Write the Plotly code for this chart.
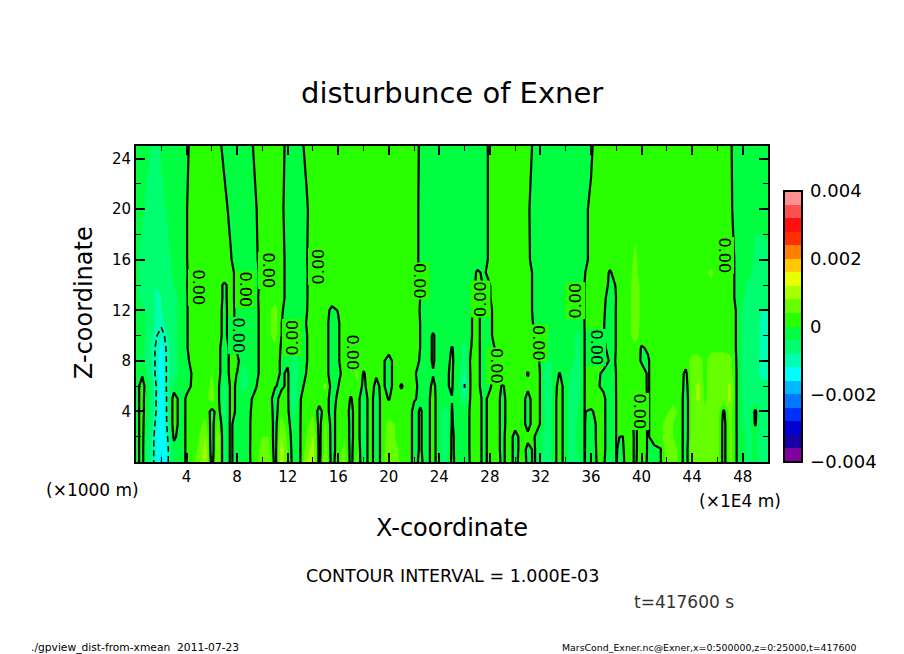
import numpy as np
import plotly.graph_objects as go

# x in units of 1E4 m, every 0.5; z in units of 1000 m
x_coord = [i * 0.5 for i in range(101)]
z_coord = [0, 1, 2, 3, 4, 5, 6, 7, 8, 9, 10, 11, 12, 13, 14, 15, 16, 20, 25]

# disturbance of Exner, in units of 1E-4, one list per height
z00 = [-1,1,-6,-11,-17,-11,-2,-2,0.5,3, 6,10,-2,8,-5,1,-3,-2,-0.3,3, 6,8,-2,10,5,-3,-0.1,8,10,-1.5, 8,-2,3,6,-1.5,5,-5,3,-3,2,
       8,6,3,3,-1.5,1,-2,2,-3,-6, 1,-2,-4,1,2,-1,1,3,-1.5,3, -2,3,-1,0.5,-3,-9,-3,3,-3,-6, -6,0.1,-3,0.5,1,-6,0.1,-1,3,-1, 4,-1,-1,-0.3,6,6,3,-3,8,6, 5,6,6,-2,6,0.1,-3,-5,-3,-6,-6]
z01 = [-1,1,-6,-11,-16,-11,-2,-2,0.5,2, 5,10,-3,8,-5,1,-3,-2,-0.2,3, 5,5,-2,10,4,-3,-0.1,6,10,-1.5, 6,-2,2,5,-1.5,4,-5,3,-3,2,
       8,6,2,3,-1.5,0.5,-2,2,-3,-6, 0.8,-2,-3,1,2,-1,1,2,-1.5,3, -2,2,-1,0.5,-3,-6,-3,3,-3,-6, -3,0.1,-2,0.5,1,-3,0.1,-0.6,3,-1, 3,-0.5,-1,-0.2,6,6,3,-3,8,6, 5,6,6,-2,6,0.1,-3,-5,-3,-6,-6]
z02 = [-1,1,-5,-11,-16,-10,1,-2,0.5,2, 4,8,-3,8,-5,1,-3,-2,-0.2,2, 4,4,-2,8,3,-3,-0.1,4,8,-1.5, 6,-2,2,4,-1.5,3,-5,3,-3,2,
       6,4,2,3,-1.5,0.5,-2,2,-3,-6, 0.8,-2,-3,1,2,-1,1,2,-1.5,3, -2,2,1,0.2,-3,-6,-3,3,-3,-6, -3,0.1,-1.5,0.5,1,-3,0.1,-0.1,3,-1, 3,-0.5,2,3,6,4,3,-3,6,6, 5,6,6,-2,6,0.1,-3,-5,-3,-6,-6]
z03 = [-1,1,-4,-10,-16,-9,3,-2,0.5,2, 3,5,-2,5,-5,1,-3,-2,-0.2,2, 4,4,-2,6,2,-4,-0.1,3,6,-1.5, 5,-2,2,4,-1.5,3,-5,3,-3,2,
       5,4,2,3,-1.5,0.5,-2,2,-3,-6, 0.3,-2,-3,1,2,-1,1,2,-1.5,2, 2,2,-1.5,2,-0.2,-6,-3,3,-3,-6, -3,0.1,-1.5,0.5,1,-3,0.1,3,2,-1, 3,-0.5,2,3,6,4,3,-3,6,6, 5,6,6,-2,6,0.1,-4,-5,0.5,-6,-6]
z04 = [-1,1,-3,-9,-15,-9,3,-2,0.5,2, 2,3,-1.5,2,-6,1,-0.5,-3,-0.2,1, 3,3,-2,3,1,-6,-0.1,2,3,-1.5, 2,-2,2,3,-1.5,3,-5,3,-3,2,
       2,2,2,3,-1.5,0.5,-2,2,-3,-6, 0.2,-3,-3,1,2,-1,1,2,-1.5,2, 2,2,-1.5,2,-0.2,-6,-3,3,-3,-6, -4,0.1,-0.5,1,1,-3,0.1,2,2,-1, 3,-0.5,2,2,3,6,3,-3,6,6, 5,6,6,-0.8,6,0.1,-4,-5,1,-6,-6]
z05 = [-1,1,-3,-9,-15,-9,3,-2,0.5,2, 2,3,6,1,-6,1,-0.5,-3,-0.5,1, 2,2,-2,2,1,-9,-0.2,2,2,2, 2,-2,1,3,-0.5,3,-5,3,-3,2,
       -0.3,2,2,2,0.5,-1,-2,2,-3,-0.2, -0.1,-3,-7,1,2,-1,1,2,-1.5,2, 2,2,-1.5,2,-0.2,-8,-3,3,-3,-6, -5,0.1,2,2,1,-3,0.1,2,2,2, 3,-0.5,2,2,2,2,3,-3,6,9, 3,6,6,6,9,0.1,-4,-6,-6,-7,-7]
z06 = [-1,1,-2,-9,-14,-9,-3,-3,-1,0.5, 2,2,5,1,-6,1,-0.5,-6,-3,-0.2, 2,2,0.3,-1,1,-8,-1,1,2,3, 5,-2,-0.1,3,2,3,-1,2,-1,1,
       -2,2,-0.5,2,1,-1,-2,1,-2,-0.3, 0.3,-3,-10.5,1,2,-3,-0.5,2,-0.5,2, 2,2,1,2,-0.2,-8,-3,2,-2,-6, -6,0.1,2,0.5,-1,-2,0.1,2,2,2, 2,-0.5,2,2,2,2,3,-2,6,9, 3,6,6,6,9,0.1,-5,-6,-6,-7,-7]
z07 = [-2,-0.3,-6,-10,-14,-9,-6,-3,-1,0.3, 2,2,4,1,-2,1,-0.1,-6,-3,-2, 3,3,3,-1,1,-8,-3,0.3,2,2, 1.5,-2,-1,1.5,2,5,-0.5,2,0.5,1,
       -2,2,2,2,0.4,-1,-2,-0.3,-2,-0.3, 0.3,-2,-9,1,2,-3,-0.5,2,2,2, 2,2,-0.3,2,-0.2,-8,-3,0.2,-2,-5, -6,0.1,2,1,-1,-2,0.1,2,2,2, 2,-0.5,2,2,2,2,2,-1,6,6, 3,6,6,6,6,0.1,-5,-6,-7,-9,-9]
z08 = [-2,-3,-6,-10,-14,-9,-6,-2,-1,1.5, 2,2,4,1,-2,1,1.5,-4,-3,-2, 3,3,3,-1,-1,-6,-2,-0.2,2,2, 1.5,-2,-0.4,2,2,6,2,2,3,1,
       -2,2,2,2,2,-0.5,-2,0.5,-2,-1, 0.5,-2,-6,1,2,-3,-3,1,2,2, 2,2,2,2,-0.5,-6,-3,-2,-2,-3, -6,0.1,2,2,2,-0.5,0.1,2,3,2, -0.5,-0.5,2,2,2,2,2,2,6,6, 3,6,6,6,6,-0.1,-5,-6,-6,-9,-9]
z09 = [-2,-3,-6,-10,-13,-9,-6,-2,-0.4,2, 2,2,3,1,-2,1,-1,-6,-3,-2, 3,3,3,-0.5,-2,-2,-2,-0.2,2,2, 1.5,-2,-0.4,2,2,2,2,2,2,2,
       2,2,2,2,2,-0.1,-2,0.5,-2,-2, 0.3,-2,-6,-0.1,2,-3,-3,1,2,2, 2,2,2,2,-2,-6,-2,-2,-2,-2, -6,0.1,2,2,1,-2,0.2,2,3,3, -0.5,0.5,2,2,2,2,2,2,2,2, 2,3,3,3,2,-0.2,-5,-6,-6,-9,-9]
z10 = [-2,-2,-6,-9,-12,-8,-6,-2,-0.4,2, 2,2,2,1,-0.8,1.2,-1,-2,-2,-2, 3,3,6,0.1,-1.5,-2,-2,-0.2,2,2, 1.5,-2,-0.4,2,2,2,2,2,2,2,
       2,2,2,2,2,-0.1,-2,0.5,-2,-2, -2,-2,-3,-0.4,2,-3,-1,2,2,2, 2,2,2,0.4,-2,-6,-2,-2,-2,-2, -6,0.1,2,2,0.2,-2,0.2,2,3,6, 2,2,2,2,2,2,2,2,2,2, 2,3,3,3,2,-0.2,-5,-6,-6,-9,-9]
z11 = [-2,-2,-6,-8,-9,-7,-6,-2,-0.4,2, 2,2,2,1,-0.8,1.2,-1,-2,-2,-2, 3,3,6,0.1,-1.5,-2,-2,0.2,2,2, 1.5,-2,-0.4,2,2,2,2,2,2,2,
       2,2,2,2,2,-0.1,-2,-2,-2,-2, -2,-2,-2,-0.4,2,-3,-1,2,2,2, 2,2,2,-0.5,-2,-2,-2,-2,-2,-2, -2,0.1,2,2,0.2,-2,0.2,2,3,6, 3,2,2,2,2,2,2,2,2,2, 2,3,3,3,2,-0.2,-5,-6,-6,-9,-9]
z12 = [-2,-2,-6,-8,-8,-6,-6,-2,-0.4,2, 2,2,2,1,-0.8,1.2,-1,-2,-2,-2, 3,3,6,0.5,-1.5,-2,-2,-0.2,2,2, 1.5,-1,0.2,2,2,2,2,2,2,2,
       2,2,2,2,2,-0.3,-2,-2,-2,-2, -2,-2,-2,-0.5,2,-3,-1,2,2,2, 2,2,2,-1,-2,-2,-2,-2,-2,-2, -2,0.1,2,2,0.5,-2,0.2,2,3,6, 3,2,2,2,2,2,2,2,2,2, 2,3,3,3,2,-0.2,-5,-6,-6,-8,-8]
z13 = [-2,-6,-7,-8,-8,-6,-6,-2,-0.4,2, 2,2,2,1,-0.5,1,-1,-2,-2,-1.5, 3,3,2,1,-1,-2,-2,-0.3,2,2, 2,2,2,2,2,2,2,2,2,2,
       2,2,2,2,2,-0.1,-2,-2,-2,-2, -2,-2,-2,-1,1.5,-0.4,-0.2,2,2,2, 2,2,2,-1,-2,-2,-2,-2,-2,-2, -2,0.1,2,2,1,-2,0.1,2,3,6, 3,2,2,2,2,2,2,2,2,2, 3,3,3,2,2,-1,-3,-6,-6,-6,-6]
z14 = [-2,-6,-7,-8,-7,-6,-4,-2,-0.2,2, 2,2,2,1,-0.5,1,-1,-2,-2,-1.5, 2,2,2,1,-1,-2,-2,-0.3,2,2, 2,2,2,2,2,2,2,2,2,2,
       2,2,2,2,2,-1,-2,-2,-2,-2, -2,-2,-2,-2,1,-0.2,-0.1,2,2,2, 2,2,2,-1,-2,-2,-2,-2,-2,-2, -2,0.1,2,2,2,-1,0.2,2,3,6, 3,2,2,2,2,2,2,2,2,2, 3,3,2,2,2,-1,-2,-6,-6,-6,-6]
z15 = [-2,-6,-7,-7,-7,-6,-3,-2,-0.4,2, 2,2,2,2,2,1,-1,-2,-2,-1.5, 2,2,2,1,-1,-2,-2,-0.4,2,2, 2,2,2,2,2,2,2,2,2,2,
       2,2,2,2,2,-1,-2,-2,-2,-2, -2,-2,-2,-2,0.5,-0.5,1,2,2,2, 2,2,2,-1,-2,-2,-2,-2,-2,-2, -2,-0.2,2,2,2,-0.5,2,2,3,5, 2,2,2,2,2,2,2,2,2,2, 3,5,2,2,2,-1,-2,-2,-6,-6,-6]
z16 = [-2,-6,-6,-7,-7,-6,-2,-2,-0.2,2, 2,2,2,2,2,0.3,-2,-2,-2,-1, 3,2,2,1,-1,-2,-2,-0.2,2,2, 2,2,2,2,2,2,2,2,2,2,
       2,2,2,2,2,-1,-2,-2,-2,-2, -2,-2,-2,-2,-2,-2,1,2,2,2, 2,2,1,-2,-2,-2,-2,-2,-2,-2, -2,-1,1,2,2,2,2,2,2,5, 2,2,2,2,2,2,2,2,2,2, 2,2,2,2,2,-1,-2,-2,-5,-6,-5]
z20 = [-2,-3,-6,-6,-6,-3,-2,-2,-0.2,2, 2,2,2,2,1,-1,-2,-2,-2,-0.2, 2,2,2,1,-2,-2,-2,-0.5,2,2, 2,2,2,2,2,2,2,2,2,2,
       2,2,2,2,2,-1,-2,-2,-2,-2, -2,-2,-2,-2,-2,-2,1,2,2,2, 2,2,1,-3,-2,-2,-2,-2,-2,-2, -2,-1,1,2,2,2,2,2,2,2, 2,2,2,2,2,2,2,2,2,2, 2,2,2,2,1,-2,-2,-2,-3,-2,-2]
z25 = [-2,-2,-3,-6,-3,-2,-2,-2,-1,2, 2,2,2,1,-1,-2,-2,-2,-1,1, 2,2,2,1,-1,-2,-1,1,2,2, 2,2,2,2,2,2,2,2,2,2,
       2,2,2,2,3,-1,-2,-2,-2,-2, -2,-2,-2,-2,-2,-2,1,2,2,2, 2,2,2,-1,-2,-2,-2,-2,-2,-2, -2,-2,-1,3,2,2,2,2,2,2, 2,2,2,2,2,2,2,2,2,2, 2,2,2,2,1,-3,-2,-2,-2,-2,-2]
rows = [z00, z01, z02, z03, z04, z05, z06, z07, z08, z09, z10, z11, z12, z13, z14, z15, z16, z20, z25]
exner = np.array(rows) * 1e-4

level_colors = ['#8000a0', '#1a00a0', '#0000d0', '#0030ff', '#0078ff', '#00b8ff', '#00ffff', '#00ffb0', '#00ff70', '#00ff40',
                '#2aff00', '#66ff00', '#a8ff00', '#e8ff00', '#ffc800', '#ff8000', '#ff3000', '#ff1010', '#ff5050', '#ff9090']
colorbar_vals = [-0.004, -0.002, 0, 0.002, 0.004]
colorbar_text = ['\u22120.004', '\u22120.002', '0', '0.002', '0.004']
x_ticks = [4, 8, 12, 16, 20, 24, 28, 32, 36, 40, 44, 48]
z_ticks = [4, 8, 12, 16, 20, 24]

# contour labels, pixel centres in the picture
label_px = [188, 235, 228, 258, 307, 281, 342, 420, 480, 497, 539, 585, 607, 650, 735]
label_py = [287, 289, 335, 251, 248, 338, 352, 281, 299, 385, 362, 301, 347, 430, 255]
label_angle = [90, 90, 90, 90, -90, -90, 90, 90, -90, 90, 90, -90, 90, 90, 90]
label_bg = ['#2aff00', '#2aff00', '#00ff40', '#2aff00', '#2aff00', '#2aff00', '#2aff00', '#2aff00', '#2aff00', '#2aff00',
            '#2aff00', '#2aff00', '#00ff40', '#2aff00', '#2aff00']

FONT = 'DejaVu Sans'
L, R, T, B = 136, 768, 146, 462


def paper_x(px):
    return (px - L) / (R - L)


def paper_y(py):
    return (B - py) / (B - T)


scale = []
for i, c in enumerate(level_colors):
    scale.append([i / 20, c])
    scale.append([(i + 1) / 20, c])

fig = go.Figure()
fig.add_trace(go.Contour(
    x=x_coord, y=z_coord, z=exner, zmin=-0.004, zmax=0.004, colorscale=scale, autocontour=False,
    contours=dict(start=-0.004, end=0.004, size=0.0004, coloring='fill', showlines=False),
    line=dict(width=0, smoothing=0), hoverinfo='skip',
    colorbar=dict(x=paper_x(784), xanchor='left', xpad=0, y=0, yanchor='bottom', ypad=0,
                  lenmode='pixels', len=271, thicknessmode='pixels', thickness=18,
                  outlinewidth=2, outlinecolor='black', ticks='outside', ticklen=4, tickcolor='rgba(0,0,0,0)',
                  tickvals=colorbar_vals, ticktext=colorbar_text,
                  tickfont=dict(family=FONT, size=18, color='black')),
))
# zero contour
fig.add_trace(go.Contour(
    x=x_coord, y=z_coord, z=exner, showscale=False, autocontour=False,
    contours=dict(start=0, end=0, size=0.001, coloring='none'),
    line=dict(color='black', width=2.2, smoothing=0), hoverinfo='skip',
))
# negative contour is dashed
fig.add_trace(go.Contour(
    x=x_coord, y=z_coord, z=exner, showscale=False, autocontour=False,
    contours=dict(start=-0.001, end=-0.001, size=0.001, coloring='none'),
    line=dict(color='black', width=1.5, dash='6px,4px', smoothing=0), hoverinfo='skip',
))

for px, py, a, bg in zip(label_px, label_py, label_angle, label_bg):
    fig.add_annotation(x=paper_x(px), y=paper_y(py), xref='paper', yref='paper', text='0.00', showarrow=False,
                       textangle=a, font=dict(family=FONT, size=16, color='black'), bgcolor=bg, borderpad=0)


def add_text(px, py, text, size, color='black', anchor='center', angle=0):
    fig.add_annotation(x=paper_x(px), y=paper_y(py), xref='paper', yref='paper', text=text, showarrow=False,
                       xanchor=anchor, yanchor='middle', textangle=angle,
                       font=dict(family=FONT, size=size, color=color))


add_text(452, 93, 'disturbunce of Exner', 29)
add_text(452, 528, 'X-coordinate', 24)
add_text(84, 303, 'Z-coordinate', 24, angle=-90)
add_text(92, 490, '(\u00d71000 m)', 17)
add_text(740, 501, '(\u00d71E4 m)', 17)
add_text(452, 576, 'CONTOUR INTERVAL = 1.000E-03', 17.5)
add_text(684, 602, 't=417600 s', 17, color='#333333')
add_text(29, 647, './gpview_dist-from-xmean  2011-07-23', 10.7, anchor='left')
add_text(858, 647, 'MarsCond_Exner.nc@Exner,x=0:500000,z=0:25000,t=417600', 9.4, anchor='right')

axis_style = dict(showgrid=False, zeroline=False, showline=True, linecolor='black', linewidth=2, mirror='ticks',
                  ticks='inside', ticklen=9, tickwidth=2, tickcolor='black',
                  tickfont=dict(family=FONT, size=15, color='black'),
                  minor=dict(ticks='inside', ticklen=5, tickwidth=1, tickcolor='black', tick0=0, dtick=2))
fig.update_xaxes(range=[0, 50], tickmode='array', tickvals=x_ticks, **axis_style)
fig.update_yaxes(range=[0, 25], tickmode='array', tickvals=z_ticks, **axis_style)
# the page body has an 8px margin, so the figure itself is 8px smaller on each axis
fig.update_layout(width=896, height=646, margin=dict(l=L - 8, r=904 - R, t=T - 8, b=654 - B),
                  paper_bgcolor='white', plot_bgcolor='white', showlegend=False)

fig.write_html('out.html')
